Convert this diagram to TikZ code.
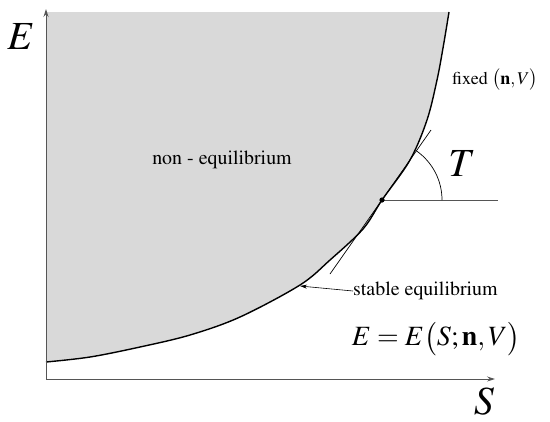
\documentclass[tikz,border=0pt]{standalone}
\usepackage[T1]{fontenc}
\usepackage{mathptmx}
\usepackage{tikz}
\usetikzlibrary{arrows.meta, positioning}
\definecolor{RegionGray}{HTML}{D9D9D9}
\definecolor{AxisGray}{HTML}{555555}
\definecolor{CurveBlack}{HTML}{000000}
\newcommand{\eqpoints}{(46,362) (90,357) (140,347) (190,335) (240,317) (300,285) (330,260) (363,229) (382,200) (410,160) (427,120) (437,80) (443,48) (449,12)}

\begin{document}
\begin{tikzpicture}[x=1bp,y=-1bp,
  axis/.style={draw=AxisGray,line width=1pt,-{Stealth[length=8pt,width=5pt]}},
  bigvar/.style={font=\fontsize{40}{40}\selectfont,inner sep=0pt},
  midtext/.style={font=\fontsize{20}{20}\selectfont,inner sep=0pt}]
\useasboundingbox (0,0) rectangle (550,421);
\coordinate (origin) at (46,379);
\coordinate (ytop) at (46,9);
\coordinate (xend) at (495,379);
\coordinate (tp) at (382,200);
\coordinate (hend) at (498,200);
\coordinate (tlow) at (330,274);
\coordinate (thigh) at (431,130);
\coordinate (cpt) at (300,286);
\fill[RegionGray] plot[smooth,tension=0.55] coordinates {\eqpoints} -- (46,12) -- cycle;
\draw[CurveBlack,line width=1.4pt] plot[smooth,tension=0.55] coordinates {\eqpoints};
\draw[axis] (origin) -- (ytop);
\draw[axis] (origin) -- (xend);
\draw[AxisGray,line width=1pt] (tp) -- (hend);
\draw[black,line width=0.7pt] (tlow) -- (thigh);
\draw[black,line width=0.7pt] ([xshift=60bp]tp) arc[start angle=0,end angle=-55,radius=60];
\fill[black] (tp) circle[radius=2.6bp];
\node[bigvar] (Elabel) at (21,37) {$E$};
\node[bigvar] (Slabel) at (484,401) {$S$};
\node[bigvar] (Tlabel) at (462,164) {$T$};
\node[midtext] (noneq) at (222,160) {non - equilibrium};
\node[font=\fontsize{18}{18}\selectfont,inner sep=0pt] (fixed) at (495,80) {fixed $\bigl(\mathbf{n},V\bigr)$};
\node[midtext,anchor=west] (stable) at (353,291) {stable equilibrium};
\node[font=\fontsize{28}{28}\selectfont,inner sep=0pt] (eqn) at (436,339) {$E = E\bigl(S;\mathbf{n},V\bigr)$};
\draw[black,line width=0.6pt,-{Stealth[length=7pt,width=4pt]}] (stable.west) -- (cpt);
\end{tikzpicture}
\end{document}
